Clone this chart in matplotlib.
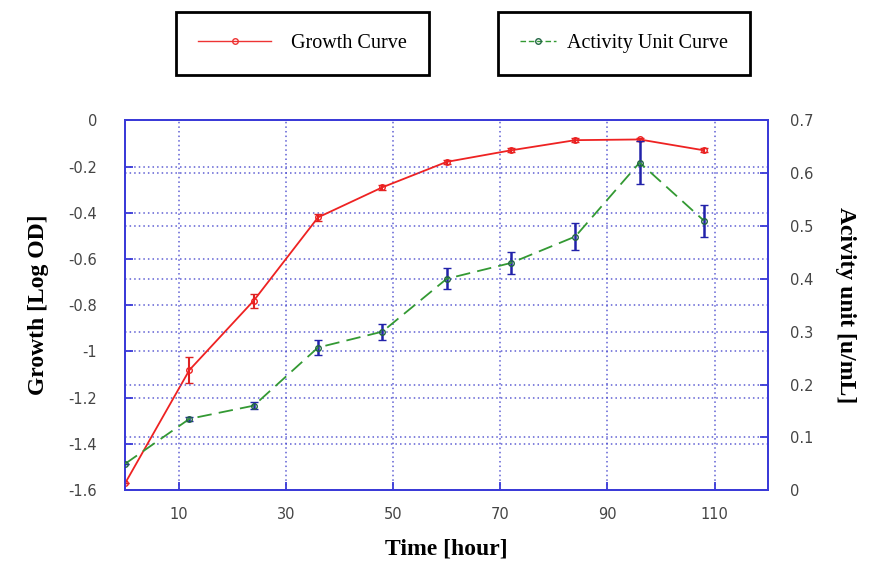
import numpy as np
import matplotlib.pyplot as plt
from matplotlib.lines import Line2D

plt.close('all')

# hours of sampling
time_h = [0, 12, 24, 36, 48, 60, 72, 84, 96, 108]

# growth (log OD) with error
growth = [-1.57, -1.08, -0.78, -0.42, -0.29, -0.18, -0.13, -0.086, -0.083, -0.13]
growth_err = [0.0, 0.055, 0.03, 0.015, 0.01, 0.008, 0.008, 0.008, 0.008, 0.008]

# activity unit (u/mL) with error
activity = [0.05, 0.135, 0.16, 0.27, 0.30, 0.40, 0.43, 0.48, 0.62, 0.51]
activity_err = [0.0, 0.004, 0.006, 0.015, 0.015, 0.02, 0.02, 0.025, 0.04, 0.03]

x_ticks = [10, 30, 50, 70, 90, 110]
left_ticks = [0, -0.2, -0.4, -0.6, -0.8, -1, -1.2, -1.4, -1.6]
right_ticks = [0, 0.1, 0.2, 0.3, 0.4, 0.5, 0.6, 0.7]

blue = '#3a3ad8'
grid_kw = dict(color='#4444cc', linestyle=(0, (1, 2)), linewidth=1.1, alpha=0.85)
tick_font = dict(family='DejaVu Sans', size=10.5, color='#444444')
label_font = dict(family='Liberation Serif', size=17, weight='bold')

fig = plt.figure(figsize=(8.75, 5.7), dpi=100)
ax = fig.add_axes([0.143, 0.140, 0.735, 0.649])
ax2 = ax.twinx()

ax.errorbar(time_h, growth, yerr=growth_err, color='#ee2222', lw=1.3,
            marker='o', ms=4, mfc='none', mec='#ee2222', ecolor='#dd2222',
            elinewidth=1.5, capsize=3, zorder=5)
ax2.errorbar(time_h, activity, yerr=activity_err, color='#339933', lw=1.3,
             ls=(0, (8, 4)), marker='o', ms=4, mfc='none', mec='#226644',
             ecolor='#2222aa', elinewidth=1.8, capsize=3, zorder=5)

ax.set_xlim(0, 120)
ax.set_ylim(-1.6, 0)
ax2.set_ylim(0, 0.7)

ax.set_xticks(x_ticks)
ax.set_xticklabels([str(t) for t in x_ticks], **tick_font)
ax.set_yticks(left_ticks)
ax.set_yticklabels([f'{t:g}' for t in left_ticks], **tick_font)
ax2.set_yticks(right_ticks)
ax2.set_yticklabels([f'{t:g}' for t in right_ticks], **tick_font)

ax.xaxis.grid(True, **grid_kw)
ax.yaxis.grid(True, **grid_kw)
ax2.yaxis.grid(True, **grid_kw)
ax.set_axisbelow(True)

for a in (ax, ax2):
    for s in a.spines.values():
        s.set_color(blue)
        s.set_linewidth(1.3)
    a.tick_params(direction='in', length=6, width=1.3, color=blue)
ax.tick_params(axis='y', pad=20)
ax2.tick_params(axis='y', pad=16)
ax.tick_params(axis='x', pad=12)

ax.set_xlabel('Time [hour]', labelpad=12, **label_font)
ax.set_ylabel('Growth [Log OD]', labelpad=14, **label_font)
ax2.set_ylabel('Acivity unit [u/mL]', rotation=270, labelpad=30, **label_font)

# two separate legend boxes at the top
h1 = Line2D([], [], color='#ee3333', lw=1, marker='o', ms=4, mfc='none')
h2 = Line2D([], [], color='#339933', lw=1, ls=(0, (4, 2)), marker='o', ms=4,
            mfc='none', mec='#226644')
legend_specs = [(h1, 'Growth Curve', 0.346, 3.6, 1.0),
                (h2, 'Activity Unit Curve', 0.713, 1.8, 0.5)]
for h, lab, cx, hlen, tpad in legend_specs:
    leg = fig.legend(handles=[h], labels=[lab], loc='center',
                     bbox_to_anchor=(cx, 0.924), fancybox=False,
                     framealpha=1, edgecolor='black', borderpad=1.1,
                     handlelength=hlen, handletextpad=tpad,
                     prop=dict(family='Liberation Serif', size=14.5))
    leg.get_frame().set_linewidth(2)

fig.savefig('out.png', dpi=100)
